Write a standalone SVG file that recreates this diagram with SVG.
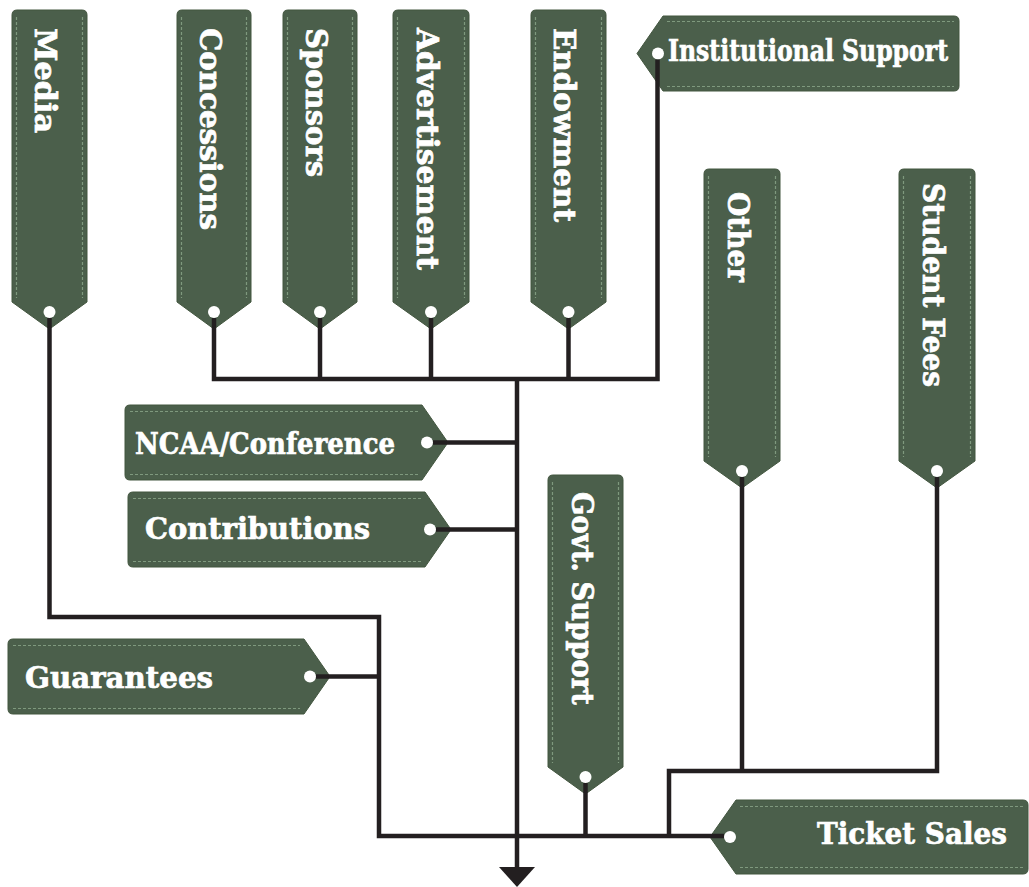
<svg xmlns="http://www.w3.org/2000/svg" width="1029" height="887" viewBox="0 0 1029 887">
  <style>
    .tag { fill: #4b5f4b; stroke: #43563f; stroke-width: 1; }
    .stitch { fill: none; stroke: #7f997e; stroke-width: 1.2; stroke-dasharray: 3 2; }
    .hole { fill: #ffffff; }
    .lbl { font-family: "DejaVu Serif", "Liberation Serif", serif; font-weight: bold; font-size: 29px; fill: #ffffff; stroke: #ffffff; stroke-width: 0.7; }
    .wire { fill: none; stroke: #231f20; stroke-width: 4.5; stroke-linejoin: miter; }
  </style>
  <defs>
    <marker id="arrow" markerUnits="userSpaceOnUse" markerWidth="20" markerHeight="36" viewBox="0 0 20 36" refX="0" refY="18" orient="auto">
      <path d="M0,0 L20,18 L0,36 Z" fill="#231f20"/>
    </marker>
  </defs>
  <rect width="1029" height="887" fill="#ffffff"/>

  <!-- vertical tags, hanging downwards -->
  <g id="media">
    <path class="tag" d="M17,10 H82 Q87,10 87,15 V302 L49.5,329 L12,302 V15 Q12,10 17,10 Z"/>
    <path class="stitch" d="M16.5,17 V298 M82.5,17 V298"/>
    <circle class="hole" cx="49.5" cy="312" r="6"/>
    <text class="lbl" transform="translate(35,28) rotate(90)" textLength="105" lengthAdjust="spacingAndGlyphs">Media</text>
  </g>
  <g id="concessions">
    <path class="tag" d="M182,10 H246 Q251,10 251,15 V302 L214,329 L177,302 V15 Q177,10 182,10 Z"/>
    <path class="stitch" d="M181.5,17 V298 M246.5,17 V298"/>
    <circle class="hole" cx="214" cy="312" r="6"/>
    <text class="lbl" transform="translate(200,28) rotate(90)" textLength="202" lengthAdjust="spacingAndGlyphs">Concessions</text>
  </g>
  <g id="sponsors">
    <path class="tag" d="M288,10 H352 Q357,10 357,15 V302 L320,329 L283,302 V15 Q283,10 288,10 Z"/>
    <path class="stitch" d="M287.5,17 V298 M352.5,17 V298"/>
    <circle class="hole" cx="320" cy="312" r="6"/>
    <text class="lbl" transform="translate(306,28) rotate(90)" textLength="149" lengthAdjust="spacingAndGlyphs">Sponsors</text>
  </g>
  <g id="advertisement">
    <path class="tag" d="M398,10 H464 Q469,10 469,15 V302 L431,329 L393,302 V15 Q393,10 398,10 Z"/>
    <path class="stitch" d="M397.5,17 V298 M464.5,17 V298"/>
    <circle class="hole" cx="431" cy="312" r="6"/>
    <text class="lbl" transform="translate(417,28) rotate(90)" textLength="242" lengthAdjust="spacingAndGlyphs">Advertisement</text>
  </g>
  <g id="endowment">
    <path class="tag" d="M536,10 H601 Q606,10 606,15 V302 L568.5,329 L531,302 V15 Q531,10 536,10 Z"/>
    <path class="stitch" d="M535.5,17 V298 M601.5,17 V298"/>
    <circle class="hole" cx="568.5" cy="312" r="6"/>
    <text class="lbl" transform="translate(554,28) rotate(90)" textLength="194" lengthAdjust="spacingAndGlyphs">Endowment</text>
  </g>
  <g id="other">
    <path class="tag" d="M709,169 H775 Q780,169 780,174 V461 L742,488 L704,461 V174 Q704,169 709,169 Z"/>
    <path class="stitch" d="M708.5,176 V457 M775.5,176 V457"/>
    <circle class="hole" cx="742" cy="471" r="6"/>
    <text class="lbl" transform="translate(728,192) rotate(90)" textLength="90" lengthAdjust="spacingAndGlyphs">Other</text>
  </g>
  <g id="student-fees">
    <path class="tag" d="M904,169 H970 Q975,169 975,174 V461 L937,488 L899,461 V174 Q899,169 904,169 Z"/>
    <path class="stitch" d="M903.5,176 V457 M970.5,176 V457"/>
    <circle class="hole" cx="937" cy="471" r="6"/>
    <text class="lbl" transform="translate(923,183) rotate(90)" textLength="204" lengthAdjust="spacingAndGlyphs">Student Fees</text>
  </g>
  <g id="govt-support">
    <path class="tag" d="M553,475 H618 Q623,475 623,480 V767 L585.5,794 L548,767 V480 Q548,475 553,475 Z"/>
    <path class="stitch" d="M552.5,482 V763 M618.5,482 V763"/>
    <circle class="hole" cx="585.5" cy="777" r="6"/>
    <text class="lbl" transform="translate(572,492) rotate(90)" textLength="213" lengthAdjust="spacingAndGlyphs">Govt. Support</text>
  </g>

  <!-- horizontal tags -->
  <g id="institutional-support">
    <path class="tag" d="M954,16 Q959,16 959,21 V86 Q959,91 954,91 H663 L637,53.5 L663,16 Z"/>
    <path class="stitch" d="M667,21.5 H954 M667,86.5 H954"/>
    <circle class="hole" cx="658" cy="53.5" r="6"/>
    <text class="lbl" x="668" y="61" textLength="280" lengthAdjust="spacingAndGlyphs">Institutional Support</text>
  </g>
  <g id="ncaa-conference">
    <path class="tag" d="M130,405 H422 L448,442.5 L422,480 H130 Q125,480 125,475 V410 Q125,405 130,405 Z"/>
    <path class="stitch" d="M130,411.5 H418 M130,474.5 H418"/>
    <circle class="hole" cx="427" cy="442.5" r="6"/>
    <text class="lbl" x="135" y="454" textLength="260" lengthAdjust="spacingAndGlyphs">NCAA/Conference</text>
  </g>
  <g id="contributions">
    <path class="tag" d="M133,492 H425 L451,529.5 L425,567 H133 Q128,567 128,562 V497 Q128,492 133,492 Z"/>
    <path class="stitch" d="M133,498.5 H421 M133,561.5 H421"/>
    <circle class="hole" cx="430" cy="529.5" r="6"/>
    <text class="lbl" x="145" y="539" textLength="225" lengthAdjust="spacingAndGlyphs">Contributions</text>
  </g>
  <g id="guarantees">
    <path class="tag" d="M13,639 H304 L330,676.5 L304,714 H13 Q8,714 8,709 V644 Q8,639 13,639 Z"/>
    <path class="stitch" d="M13,645.5 H300 M13,708.5 H300"/>
    <circle class="hole" cx="310" cy="676.5" r="6"/>
    <text class="lbl" x="25" y="688" textLength="188" lengthAdjust="spacingAndGlyphs">Guarantees</text>
  </g>
  <g id="ticket-sales">
    <path class="tag" d="M1023,800 Q1028,800 1028,805 V869 Q1028,874 1023,874 H736 L710,837 L736,800 Z"/>
    <path class="stitch" d="M740,806.5 H1023 M740,867.5 H1023"/>
    <circle class="hole" cx="730" cy="837" r="6"/>
    <text class="lbl" x="817" y="844" textLength="190" lengthAdjust="spacingAndGlyphs">Ticket Sales</text>
  </g>

  <!-- connectors -->
  <g id="connectors">
    <path class="wire" d="M49.5,318 V617 H379 V836 H724"/>
    <path class="wire" d="M316,676.5 H379"/>
    <path class="wire" d="M214,318 V379 H657.5 V59.5"/>
    <path class="wire" d="M320,318 V379"/>
    <path class="wire" d="M431,318 V379"/>
    <path class="wire" d="M568.5,318 V379"/>
    <path class="wire" d="M433,442.5 H517"/>
    <path class="wire" d="M436,529.5 H517"/>
    <path class="wire" d="M585.5,783 V836"/>
    <path class="wire" d="M669,836 V771 H937 V477"/>
    <path class="wire" d="M742,477 V771"/>
    <path class="wire" d="M517,379 V867" marker-end="url(#arrow)"/>
  </g>
</svg>
